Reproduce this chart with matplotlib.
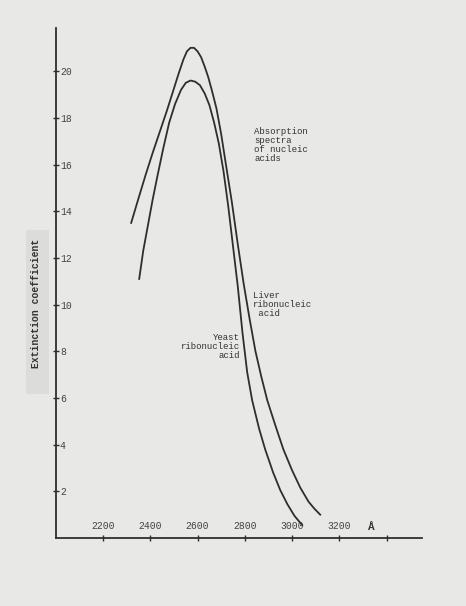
import matplotlib
matplotlib.use("Agg")
from matplotlib import pyplot as plt
from matplotlib.patches import Rectangle

# wavelength (Angstrom) and extinction coefficient
liver_wl = [2319, 2350, 2380, 2410, 2440, 2470, 2495, 2520, 2540, 2555, 2570,
            2585, 2600, 2615, 2630, 2645, 2660, 2680, 2700, 2720, 2745, 2770,
            2795, 2820, 2845, 2870, 2895, 2930, 2963, 3000, 3035, 3070, 3095, 3119]
liver_ext = [13.5, 14.55, 15.55, 16.5, 17.4, 18.3, 19.1, 19.9, 20.5, 20.85, 21.0,
             21.0, 20.85, 20.6, 20.2, 19.75, 19.2, 18.4, 17.3, 16.0, 14.4, 12.6,
             10.9, 9.4, 8.0, 6.9, 5.9, 4.8, 3.8, 2.9, 2.15, 1.55, 1.25, 1.0]

yeast_wl = [2353, 2370, 2390, 2410, 2430, 2455, 2480, 2505, 2530, 2550, 2570,
            2590, 2610, 2630, 2650, 2670, 2690, 2710, 2730, 2750, 2770, 2790,
            2810, 2831, 2860, 2886, 2920, 2950, 2980, 3010, 3043]
yeast_ext = [11.1, 12.3, 13.4, 14.5, 15.5, 16.7, 17.8, 18.6, 19.2, 19.5, 19.6,
             19.55, 19.4, 19.05, 18.55, 17.8, 16.9, 15.7, 14.2, 12.5, 10.8, 8.8,
             7.1, 5.9, 4.7, 3.8, 2.8, 2.05, 1.45, 0.95, 0.55]

x_ticks = [2200, 2400, 2600, 2800, 3000, 3200, 3400]
x_labels = ["2200", "2400", "2600", "2800", "3000", "3200", ""]
y_ticks = [2, 4, 6, 8, 10, 12, 14, 16, 18, 20]

mono = "Liberation Mono"
ink = "#2e2e2e"

fig = plt.figure(figsize=(4.66, 6.06), dpi=100, facecolor="#e8e8e6")
# paper strip behind the axis title
fig.patches.append(Rectangle((0.055, 0.35), 0.05, 0.27, transform=fig.transFigure,
                             facecolor="#dcdcda", edgecolor="none", zorder=0))

ax = fig.add_axes([0.1197, 0.1122, 0.786, 0.8416])
ax.set_facecolor("none")

ax.plot(liver_wl, liver_ext, color=ink, lw=1.3, solid_joinstyle="round")
ax.plot(yeast_wl, yeast_ext, color=ink, lw=1.3, solid_joinstyle="round")

ax.set_xlim(2000, 3550)
ax.set_ylim(0, 21.85)

for s in ["top", "right"]:
    ax.spines[s].set_visible(False)
for s in ["left", "bottom"]:
    ax.spines[s].set_color(ink)
    ax.spines[s].set_linewidth(1.3)

ax.set_xticks(x_ticks)
ax.set_xticklabels(x_labels, fontfamily=mono, fontsize=7, color="#444444")
ax.set_yticks(y_ticks)
ax.set_yticklabels([str(v) for v in y_ticks], fontfamily=mono, fontsize=7, color="#444444")

ax.tick_params(axis="x", direction="inout", length=4, width=1, color=ink, pad=-7)
ax.tick_params(axis="y", direction="inout", length=4, width=1, color=ink, pad=-5)
for lab in ax.get_xticklabels():
    lab.set_va("bottom")
for lab in ax.get_yticklabels():
    lab.set_ha("left")

ax.text(3330, 0.25, "Å", fontfamily=mono, fontsize=8, color="#333333",
        ha="center", va="bottom", fontweight="bold")

fig.text(0.077, 0.50, "Extinction coefficient", rotation=90, fontfamily=mono,
         fontsize=7, color="#333333", ha="center", va="center", fontweight="bold")

txt = dict(fontfamily=mono, fontsize=6.5, color="#333333", linespacing=1.0)
ax.text(2840, 17.6, "Absorption\nspectra\nof nucleic\nacids", ha="left", va="top", **txt)
ax.text(2835, 10.6, "Liver\nribonucleic\n acid", ha="left", va="top", **txt)
ax.text(2780, 8.8, "Yeast\nribonucleic\nacid", ha="right", va="top",
        multialignment="right", **txt)

fig.savefig("out.png", dpi=100, facecolor=fig.get_facecolor())
